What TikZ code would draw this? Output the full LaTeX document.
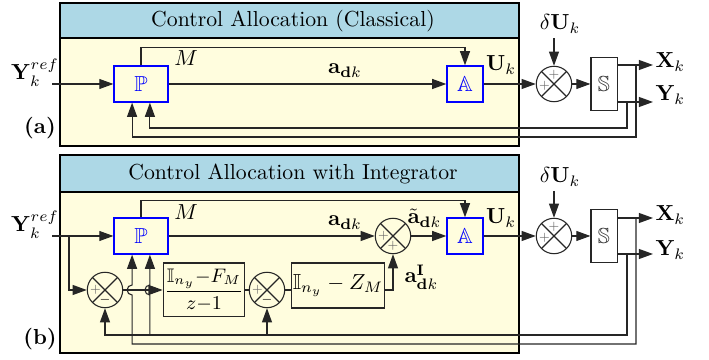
\documentclass[tikz,border=0pt]{standalone}
\usepackage{amsmath,amssymb}
\usetikzlibrary{arrows.meta}

\definecolor{titleblue}{RGB}{173,216,230}
\definecolor{paneyellow}{RGB}{255,253,222}

\begin{document}
\begin{tikzpicture}[x=0.46pt, y=-0.46pt, line width=0.5pt,
		sig/.style={draw=black!85, -{Triangle[length=6.5pt, width=4.6pt]}},
		wire/.style={draw=black!85},
		pane/.style={draw, line width=0.9pt, fill=paneyellow},
		band/.style={draw, line width=0.9pt, fill=titleblue},
		opblk/.style={draw=blue, text=blue, line width=0.6pt, minimum width=24.8pt, minimum height=16.6pt, inner sep=0pt},
		sysblk/.style={draw=black!85, text=black!80, minimum width=12pt, minimum height=24.4pt, inner sep=0pt},
		tfblk/.style={draw=black!85, inner sep=0.5pt},
		sumjn/.style={circle, draw=black!85, minimum size=16.3pt, inner sep=0pt,
			path picture={\draw[black!85] (path picture bounding box.north west) -- (path picture bounding box.south east)
				(path picture bounding box.north east) -- (path picture bounding box.south west);}},
		sgn/.style={font=\tiny, text=black!60, inner sep=0pt},
		lbl/.style={inner sep=0pt, anchor=base},
		lblw/.style={inner sep=0pt, anchor=base west}]
		\useasboundingbox (0, 0) rectangle (709, 360);
		
		% (a) classical allocation
		\draw[pane] (60, 3) rectangle (519, 146);
		\draw[band] (60, 3) rectangle (519, 38);
		\node (titlea) at (293, 21) {Control Allocation (Classical)};
		\node (taga) at (40, 128) {\textbf{(a)}};
		
		\node[opblk] (pa) at (141, 84) {$\mathbb{P}$};
		\node[opblk, minimum width=16.6pt] (aa) at (465, 84) {$\mathbb{A}$};
		\node[sumjn] (sa) at (554, 84) {};
		\node[sysblk] (ssa) at (604, 84) {$\mathbb{S}$};
		\node[sgn] at ([yshift=4.2pt]sa.center) {$+$};
		\node[sgn] at ([xshift=-4.4pt, yshift=-0.8pt]sa.center) {$+$};
		
		\coordinate (ina) at (52, 84);
		\coordinate (xouta) at (653, 65);
		\coordinate (youta) at (653, 102);
		\coordinate (xtapa) at (636, 65);
		\coordinate (ytapa) at (627, 102);
		
		\node[lbl] (yrefa) at (35, 80) {$\mathbf{Y}_k^{ref}$};
		\node[lbl] (ma) at (186, 66) {$M$};
		\node[lbl] (ada) at (345, 74) {$\mathbf{a}_{\mathbf{d}k}$};
		\node[lbl] (ua) at (501, 71) {$\mathbf{U}_k$};
		\node[lbl] (dua) at (560, 30) {$\delta\mathbf{U}_k$};
		\node[lblw] (xa) at (655, 68) {$\mathbf{X}_k$};
		\node[lblw] (ya) at (655, 101) {$\mathbf{Y}_k$};
		
		\draw[sig] (ina) -- (pa.west);
		\draw[sig] (pa.north) -- ++(0, -18) -| (aa.north);
		\draw[sig] (pa.east) -- (aa.west);
		\draw[sig] (aa.east) -- (sa.west);
		\draw[sig] ([yshift=12.6pt]sa.north) -- (sa.north);
		\draw[sig] (sa.east) -- (ssa.west);
		\draw[sig] (ssa.east |- xouta) -- (xouta);
		\draw[sig] (ssa.east |- youta) -- (youta);
		\draw[sig] (xtapa) -- ++(0, 72) -| ([xshift=-4.1pt]pa.south);
		\draw[sig] (ytapa) -- ++(0, 26) -| ([xshift=4.1pt]pa.south);
		
		% (b) allocation with integrator
		\draw[pane] (60, 155) rectangle (519, 353);
		\draw[band] (60, 155) rectangle (519, 192);
		\node (titleb) at (293, 174) {Control Allocation with Integrator};
		\node (tagb) at (40, 339) {\textbf{(b)}};
		
		\node[opblk] (pb) at (141, 236) {$\mathbb{P}$};
		\node[opblk, minimum width=16.6pt] (ab) at (465, 236) {$\mathbb{A}$};
		\node[sumjn] (s1) at (105, 290) {};
		\node[tfblk, font=\small, minimum width=33.6pt, minimum height=24.8pt] (int1) at (204, 290) {$\dfrac{\mathbb{I}_{n_y}{-}F_M}{z{-}1}$};
		\node[sumjn] (s2) at (267, 290) {};
		\node[tfblk, minimum width=41.4pt, minimum height=20.7pt] (int2) at (338, 285.5) {$\mathbb{I}_{n_y} - Z_M$};
		\node[sumjn] (s3) at (393, 236) {};
		\node[sumjn] (sb) at (554, 236) {};
		\node[sysblk] (ssb) at (604, 236) {$\mathbb{S}$};
		
		\node[sgn] at ([xshift=-4.4pt]s1.center) {$+$};
		\node[sgn, text=black] at ([yshift=-4.4pt]s1.center) {$-$};
		\node[sgn] at ([xshift=-4.4pt]s2.center) {$+$};
		\node[sgn, text=black] at ([yshift=-4.4pt]s2.center) {$-$};
		\node[sgn] at ([xshift=-4.4pt]s3.center) {$+$};
		\node[sgn] at ([yshift=-4.4pt]s3.center) {$+$};
		\node[sgn] at ([yshift=4.2pt]sb.center) {$+$};
		\node[sgn] at ([xshift=-4.4pt, yshift=-0.8pt]sb.center) {$+$};
		
		\coordinate (inb) at (52, 236);
		\coordinate (brb) at (69, 236);
		\coordinate (xoutb) at (653, 218);
		\coordinate (youtb) at (653, 254);
		\coordinate (xtapb) at (636, 218);
		\coordinate (ytapb) at (627, 254);
		\coordinate (fyb) at (627, 335);
		\coordinate (fxb) at (636, 344);
		
		\node[lbl] (yrefb) at (35, 232) {$\mathbf{Y}_k^{ref}$};
		\node[lbl] (mb) at (186, 220) {$M$};
		\node[lbl] (adb) at (345, 226) {$\mathbf{a}_{\mathbf{d}k}$};
		\node[lblw] (atb) at (407, 224) {$\tilde{\mathbf{a}}_{\mathbf{d}k}$};
		\node[lblw] (aib) at (404, 283) {$\mathbf{a}^{\mathbf{I}}_{\mathbf{d}k}$};
		\node[lbl] (ub) at (501, 224) {$\mathbf{U}_k$};
		\node[lbl] (dub) at (560, 183) {$\delta\mathbf{U}_k$};
		\node[lblw] (xb) at (655, 221) {$\mathbf{X}_k$};
		\node[lblw] (yb) at (655, 256) {$\mathbf{Y}_k$};
		
		\draw[sig] (inb) -- (pb.west);
		\draw[sig] (brb) |- (s1.west);
		\draw[sig] (pb.north) -- ++(0, -17) -| (ab.north);
		\draw[sig] (pb.east) -- (s3.west);
		\draw[sig] (s3.east) -- (ab.west);
		\draw[sig] (ab.east) -- (sb.west);
		\draw[sig] ([yshift=12.4pt]sb.north) -- (sb.north);
		\draw[sig] (sb.east) -- (ssb.west);
		\draw[sig] (ssb.east |- xoutb) -- (xoutb);
		\draw[sig] (ssb.east |- youtb) -- (youtb);
		
		\draw[sig] (s1.east) -- (int1.west);
		\draw[wire] (int1.east) -- (s2.west);
		\draw[wire] (s2.east) -- (int2.west |- s2.east);
		\draw[sig] (int2.east |- s2.east) -| (s3.south);
		
		% feedback, hopping over the s1 -> int1 line
		\draw[sig] (ytapb) -- (fyb) -| (s1.south);
		\draw[sig] (s2.south |- fyb) -- (s2.south);
		\draw[sig] ([xshift=4.1pt]pb.south |- fyb) -- ++(0, -40) arc[start angle=-90, end angle=-270, radius=2.3pt] -- ([xshift=4.1pt]pb.south);
		\draw[sig] (xtapb) -- (fxb) -- ([xshift=-4.1pt]pb.south |- fxb) -- ++(0, -49) arc[start angle=-90, end angle=-270, radius=2.3pt] -- ([xshift=-4.1pt]pb.south);
	\end{tikzpicture}
\end{document}
